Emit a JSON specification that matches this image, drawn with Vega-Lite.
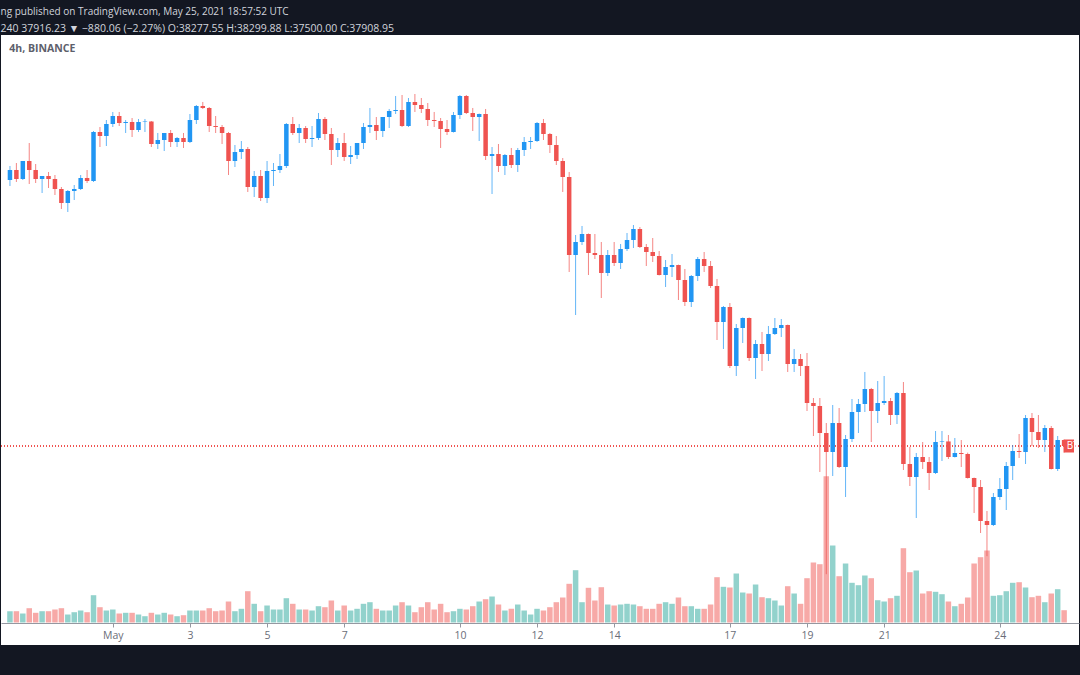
{
"$schema": "https://vega.github.io/schema/vega-lite/v6.json",
"width": 1080,
"height": 675,
"autosize": {"type": "fit", "contains": "padding"},
"padding": {"left": 0, "right": 0, "top": 6, "bottom": 30},
"background": "#131722",
"config": {"view": {"fill": "#ffffff", "stroke": null}, "font": "Open Sans"},
"title": {"text": "ng published on TradingView.com, May 25, 2021 18:57:52 UTC", "subtitle": "240  37916.23 \u25bc \u2212880.06 (\u22122.27%)  O:38277.55  H:38299.88  L:37500.00  C:37908.95", "anchor": "start", "frame": "bounds", "color": "#d1d4dc", "subtitleColor": "#d1d4dc", "fontSize": 10, "subtitleFontSize": 10.5, "fontWeight": "normal", "font": "Open Sans", "subtitleFont": "Open Sans", "offset": 1, "subtitlePadding": 7},
"data": {"values": [
{"t":"2021-04-28T08:00:00Z","o":54321,"h":55185,"l":53951,"c":54938,"v":11300},
{"t":"2021-04-28T12:00:00Z","o":54938,"h":55369,"l":54198,"c":54383,"v":11300},
{"t":"2021-04-28T16:00:00Z","o":54383,"h":55493,"l":54321,"c":55493,"v":9000},
{"t":"2021-04-28T20:00:00Z","o":55493,"h":56603,"l":54074,"c":54938,"v":14300},
{"t":"2021-04-29T00:00:00Z","o":54938,"h":55308,"l":54135,"c":54383,"v":9700},
{"t":"2021-04-29T04:00:00Z","o":54383,"h":54567,"l":53518,"c":54567,"v":11300},
{"t":"2021-04-29T08:00:00Z","o":54567,"h":54815,"l":53827,"c":54383,"v":11300},
{"t":"2021-04-29T12:00:00Z","o":54383,"h":54629,"l":53395,"c":53766,"v":13000},
{"t":"2021-04-29T16:00:00Z","o":53766,"h":53889,"l":52532,"c":52901,"v":14300},
{"t":"2021-04-29T20:00:00Z","o":52901,"h":53704,"l":52347,"c":53642,"v":8000},
{"t":"2021-04-30T00:00:00Z","o":53642,"h":54012,"l":53087,"c":53766,"v":10300},
{"t":"2021-04-30T04:00:00Z","o":53766,"h":54629,"l":53704,"c":54444,"v":12000},
{"t":"2021-04-30T08:00:00Z","o":54444,"h":54938,"l":54136,"c":54259,"v":10300},
{"t":"2021-04-30T12:00:00Z","o":54259,"h":57344,"l":54198,"c":57283,"v":27300},
{"t":"2021-04-30T16:00:00Z","o":57283,"h":57591,"l":56357,"c":57035,"v":15300},
{"t":"2021-04-30T20:00:00Z","o":57035,"h":58023,"l":56418,"c":57776,"v":12000},
{"t":"2021-05-01T00:00:00Z","o":57776,"h":58517,"l":57591,"c":58269,"v":13000},
{"t":"2021-05-01T04:00:00Z","o":58269,"h":58517,"l":57652,"c":57837,"v":9000},
{"t":"2021-05-01T08:00:00Z","o":57837,"h":58023,"l":57221,"c":57900,"v":9700},
{"t":"2021-05-01T12:00:00Z","o":57900,"h":58146,"l":56974,"c":57406,"v":9700},
{"t":"2021-05-01T16:00:00Z","o":57406,"h":58085,"l":57283,"c":57900,"v":8000},
{"t":"2021-05-01T20:00:00Z","o":57900,"h":58085,"l":57283,"c":57930,"v":6300},
{"t":"2021-05-02T00:00:00Z","o":57930,"h":57960,"l":56357,"c":56542,"v":9700},
{"t":"2021-05-02T04:00:00Z","o":56542,"h":57221,"l":56234,"c":56789,"v":8000},
{"t":"2021-05-02T08:00:00Z","o":56789,"h":57221,"l":56110,"c":57221,"v":9700},
{"t":"2021-05-02T12:00:00Z","o":57221,"h":57406,"l":56357,"c":56666,"v":8000},
{"t":"2021-05-02T16:00:00Z","o":56666,"h":56974,"l":56357,"c":56912,"v":6300},
{"t":"2021-05-02T20:00:00Z","o":56912,"h":57221,"l":56296,"c":56666,"v":7300},
{"t":"2021-05-03T00:00:00Z","o":56666,"h":58393,"l":56603,"c":58023,"v":12000},
{"t":"2021-05-03T04:00:00Z","o":58023,"h":58948,"l":57776,"c":58887,"v":12000},
{"t":"2021-05-03T08:00:00Z","o":58887,"h":59134,"l":58702,"c":58764,"v":12000},
{"t":"2021-05-03T12:00:00Z","o":58764,"h":58825,"l":57283,"c":57652,"v":14300},
{"t":"2021-05-03T16:00:00Z","o":57652,"h":58269,"l":57221,"c":57590,"v":11300},
{"t":"2021-05-03T20:00:00Z","o":57590,"h":57714,"l":56542,"c":57221,"v":12000},
{"t":"2021-05-04T00:00:00Z","o":57221,"h":57283,"l":54629,"c":55493,"v":21000},
{"t":"2021-05-04T04:00:00Z","o":55493,"h":56480,"l":55123,"c":56048,"v":11300},
{"t":"2021-05-04T08:00:00Z","o":56048,"h":56727,"l":55616,"c":56234,"v":13700},
{"t":"2021-05-04T12:00:00Z","o":56234,"h":56357,"l":53581,"c":53889,"v":31300},
{"t":"2021-05-04T16:00:00Z","o":53889,"h":54876,"l":53272,"c":54567,"v":18700},
{"t":"2021-05-04T20:00:00Z","o":54567,"h":54938,"l":53025,"c":53210,"v":11300},
{"t":"2021-05-05T00:00:00Z","o":53210,"h":55493,"l":52901,"c":54876,"v":17000},
{"t":"2021-05-05T04:00:00Z","o":54876,"h":55369,"l":53951,"c":54938,"v":13000},
{"t":"2021-05-05T08:00:00Z","o":54938,"h":55925,"l":54752,"c":55185,"v":13000},
{"t":"2021-05-05T12:00:00Z","o":55185,"h":57837,"l":55061,"c":57776,"v":24300},
{"t":"2021-05-05T16:00:00Z","o":57776,"h":58208,"l":57097,"c":57221,"v":18700},
{"t":"2021-05-05T20:00:00Z","o":57221,"h":57776,"l":56603,"c":57529,"v":13000},
{"t":"2021-05-06T00:00:00Z","o":57529,"h":57652,"l":56603,"c":56850,"v":13000},
{"t":"2021-05-06T04:00:00Z","o":56850,"h":57652,"l":56357,"c":56912,"v":12000},
{"t":"2021-05-06T08:00:00Z","o":56912,"h":58455,"l":56789,"c":58085,"v":16300},
{"t":"2021-05-06T12:00:00Z","o":58085,"h":58208,"l":56789,"c":57159,"v":15300},
{"t":"2021-05-06T16:00:00Z","o":57159,"h":57529,"l":55246,"c":56172,"v":22000},
{"t":"2021-05-06T20:00:00Z","o":56172,"h":56912,"l":55740,"c":56603,"v":12000},
{"t":"2021-05-07T00:00:00Z","o":56603,"h":57221,"l":55493,"c":55740,"v":17000},
{"t":"2021-05-07T04:00:00Z","o":55740,"h":56418,"l":55308,"c":55863,"v":12000},
{"t":"2021-05-07T08:00:00Z","o":55863,"h":56603,"l":55616,"c":56603,"v":13700},
{"t":"2021-05-07T12:00:00Z","o":56603,"h":57837,"l":56234,"c":57591,"v":18700},
{"t":"2021-05-07T16:00:00Z","o":57591,"h":58764,"l":57221,"c":57714,"v":20300},
{"t":"2021-05-07T20:00:00Z","o":57714,"h":58208,"l":56789,"c":57344,"v":13700},
{"t":"2021-05-08T00:00:00Z","o":57344,"h":58208,"l":56974,"c":58208,"v":12000},
{"t":"2021-05-08T04:00:00Z","o":58208,"h":58702,"l":57529,"c":58578,"v":12000},
{"t":"2021-05-08T08:00:00Z","o":58578,"h":59504,"l":58393,"c":58640,"v":17000},
{"t":"2021-05-08T12:00:00Z","o":58640,"h":59565,"l":57591,"c":57652,"v":20300},
{"t":"2021-05-08T16:00:00Z","o":57652,"h":59380,"l":57591,"c":59134,"v":17000},
{"t":"2021-05-08T20:00:00Z","o":59134,"h":59627,"l":58517,"c":58948,"v":10300},
{"t":"2021-05-09T00:00:00Z","o":58948,"h":59380,"l":58455,"c":58702,"v":15300},
{"t":"2021-05-09T04:00:00Z","o":58702,"h":59071,"l":57652,"c":58023,"v":20300},
{"t":"2021-05-09T08:00:00Z","o":58023,"h":58517,"l":57591,"c":57962,"v":13000},
{"t":"2021-05-09T12:00:00Z","o":57962,"h":58146,"l":56296,"c":57467,"v":18700},
{"t":"2021-05-09T16:00:00Z","o":57467,"h":58023,"l":57097,"c":57283,"v":10300},
{"t":"2021-05-09T20:00:00Z","o":57283,"h":58517,"l":57250,"c":58331,"v":11300},
{"t":"2021-05-10T00:00:00Z","o":58331,"h":59565,"l":58085,"c":59504,"v":13700},
{"t":"2021-05-10T04:00:00Z","o":59504,"h":59565,"l":58393,"c":58455,"v":13000},
{"t":"2021-05-10T08:00:00Z","o":58455,"h":58764,"l":57344,"c":58208,"v":16300},
{"t":"2021-05-10T12:00:00Z","o":58208,"h":58420,"l":56727,"c":58393,"v":21000},
{"t":"2021-05-10T16:00:00Z","o":58393,"h":58702,"l":55555,"c":55801,"v":23300},
{"t":"2021-05-10T20:00:00Z","o":55801,"h":56357,"l":53457,"c":55925,"v":26000},
{"t":"2021-05-11T00:00:00Z","o":55925,"h":56542,"l":54815,"c":55185,"v":18000},
{"t":"2021-05-11T04:00:00Z","o":55185,"h":55925,"l":54629,"c":55863,"v":12000},
{"t":"2021-05-11T08:00:00Z","o":55863,"h":56296,"l":55061,"c":55246,"v":13700},
{"t":"2021-05-11T12:00:00Z","o":55246,"h":56296,"l":54815,"c":56172,"v":18000},
{"t":"2021-05-11T16:00:00Z","o":56172,"h":56974,"l":55801,"c":56666,"v":12000},
{"t":"2021-05-11T20:00:00Z","o":56666,"h":56974,"l":56234,"c":56727,"v":8000},
{"t":"2021-05-12T00:00:00Z","o":56727,"h":57900,"l":56666,"c":57837,"v":13700},
{"t":"2021-05-12T04:00:00Z","o":57837,"h":58085,"l":56789,"c":57159,"v":12000},
{"t":"2021-05-12T08:00:00Z","o":57159,"h":57221,"l":55986,"c":56480,"v":15300},
{"t":"2021-05-12T12:00:00Z","o":56480,"h":57035,"l":55246,"c":55493,"v":20300},
{"t":"2021-05-12T16:00:00Z","o":55493,"h":55678,"l":53581,"c":54506,"v":25000},
{"t":"2021-05-12T20:00:00Z","o":54506,"h":54815,"l":48645,"c":49693,"v":38700},
{"t":"2021-05-13T00:00:00Z","o":49693,"h":50927,"l":45991,"c":50496,"v":52300},
{"t":"2021-05-13T04:00:00Z","o":50496,"h":51483,"l":50310,"c":50989,"v":20300},
{"t":"2021-05-13T08:00:00Z","o":50989,"h":51020,"l":48459,"c":49816,"v":34700},
{"t":"2021-05-13T12:00:00Z","o":49816,"h":50989,"l":49446,"c":49693,"v":22000},
{"t":"2021-05-13T16:00:00Z","o":49693,"h":50495,"l":47040,"c":48582,"v":35300},
{"t":"2021-05-13T20:00:00Z","o":48582,"h":50002,"l":48398,"c":49693,"v":18000},
{"t":"2021-05-14T00:00:00Z","o":49693,"h":50495,"l":49014,"c":49199,"v":17000},
{"t":"2021-05-14T04:00:00Z","o":49199,"h":50372,"l":48830,"c":50064,"v":18000},
{"t":"2021-05-14T08:00:00Z","o":50064,"h":51050,"l":49940,"c":50619,"v":18700},
{"t":"2021-05-14T12:00:00Z","o":50619,"h":51544,"l":50125,"c":51298,"v":18000},
{"t":"2021-05-14T16:00:00Z","o":51298,"h":51421,"l":50125,"c":50187,"v":16300},
{"t":"2021-05-14T20:00:00Z","o":50187,"h":50372,"l":49014,"c":49878,"v":13700},
{"t":"2021-05-15T00:00:00Z","o":49878,"h":50742,"l":49261,"c":49631,"v":13700},
{"t":"2021-05-15T04:00:00Z","o":49631,"h":49940,"l":48430,"c":48459,"v":18700},
{"t":"2021-05-15T08:00:00Z","o":48459,"h":49385,"l":47719,"c":48953,"v":20300},
{"t":"2021-05-15T12:00:00Z","o":48953,"h":49755,"l":48336,"c":49076,"v":18700},
{"t":"2021-05-15T16:00:00Z","o":49076,"h":49100,"l":46917,"c":48151,"v":25000},
{"t":"2021-05-15T20:00:00Z","o":48151,"h":48830,"l":46546,"c":46794,"v":16300},
{"t":"2021-05-16T00:00:00Z","o":46794,"h":48459,"l":46485,"c":48398,"v":16300},
{"t":"2021-05-16T04:00:00Z","o":48398,"h":49570,"l":48089,"c":49446,"v":13700},
{"t":"2021-05-16T08:00:00Z","o":49446,"h":49878,"l":48645,"c":49014,"v":13700},
{"t":"2021-05-16T12:00:00Z","o":49014,"h":49323,"l":47657,"c":47780,"v":18000},
{"t":"2021-05-16T16:00:00Z","o":47780,"h":48213,"l":44449,"c":45560,"v":45300},
{"t":"2021-05-16T20:00:00Z","o":45560,"h":46546,"l":43894,"c":46485,"v":35700},
{"t":"2021-05-17T00:00:00Z","o":46485,"h":46731,"l":42721,"c":42844,"v":35000},
{"t":"2021-05-17T04:00:00Z","o":42844,"h":45436,"l":42227,"c":45189,"v":49000},
{"t":"2021-05-17T08:00:00Z","o":45189,"h":45840,"l":44263,"c":45806,"v":30000},
{"t":"2021-05-17T12:00:00Z","o":45806,"h":45840,"l":43153,"c":43338,"v":29000},
{"t":"2021-05-17T16:00:00Z","o":43338,"h":44449,"l":42043,"c":44202,"v":38000},
{"t":"2021-05-17T20:00:00Z","o":44202,"h":44943,"l":42536,"c":43585,"v":25300},
{"t":"2021-05-18T00:00:00Z","o":43585,"h":45313,"l":43153,"c":44819,"v":24300},
{"t":"2021-05-18T04:00:00Z","o":44819,"h":45806,"l":44757,"c":45189,"v":22000},
{"t":"2021-05-18T08:00:00Z","o":45189,"h":45744,"l":44634,"c":45374,"v":17000},
{"t":"2021-05-18T12:00:00Z","o":45374,"h":45400,"l":42475,"c":42968,"v":36300},
{"t":"2021-05-18T16:00:00Z","o":42968,"h":43894,"l":42475,"c":43276,"v":29000},
{"t":"2021-05-18T20:00:00Z","o":43276,"h":43585,"l":42227,"c":42844,"v":18700},
{"t":"2021-05-19T00:00:00Z","o":42844,"h":43646,"l":40068,"c":40561,"v":44300},
{"t":"2021-05-19T04:00:00Z","o":40561,"h":40870,"l":38525,"c":40377,"v":60000},
{"t":"2021-05-19T08:00:00Z","o":40377,"h":40870,"l":36305,"c":38710,"v":58300},
{"t":"2021-05-19T12:00:00Z","o":38710,"h":39327,"l":30000,"c":37539,"v":146300},
{"t":"2021-05-19T16:00:00Z","o":37539,"h":40438,"l":36057,"c":39327,"v":77000},
{"t":"2021-05-19T20:00:00Z","o":39327,"h":40253,"l":36551,"c":36613,"v":46300},
{"t":"2021-05-20T00:00:00Z","o":36613,"h":38587,"l":34762,"c":38340,"v":59000},
{"t":"2021-05-20T04:00:00Z","o":38340,"h":40808,"l":38155,"c":40007,"v":39700},
{"t":"2021-05-20T08:00:00Z","o":40007,"h":40808,"l":38710,"c":40500,"v":37300},
{"t":"2021-05-20T12:00:00Z","o":40500,"h":42475,"l":40007,"c":41426,"v":47000},
{"t":"2021-05-20T16:00:00Z","o":41426,"h":41490,"l":38155,"c":40068,"v":44300},
{"t":"2021-05-20T20:00:00Z","o":40068,"h":41919,"l":39327,"c":40561,"v":22300},
{"t":"2021-05-21T00:00:00Z","o":40561,"h":42227,"l":40438,"c":40685,"v":21000},
{"t":"2021-05-21T04:00:00Z","o":40685,"h":40870,"l":39204,"c":39821,"v":24300},
{"t":"2021-05-21T08:00:00Z","o":39821,"h":41241,"l":39266,"c":41178,"v":26700},
{"t":"2021-05-21T12:00:00Z","o":41178,"h":41857,"l":36428,"c":36798,"v":74300},
{"t":"2021-05-21T16:00:00Z","o":36798,"h":37847,"l":35440,"c":35996,"v":50300},
{"t":"2021-05-21T20:00:00Z","o":35996,"h":37477,"l":33466,"c":37230,"v":52000},
{"t":"2021-05-22T00:00:00Z","o":37230,"h":38155,"l":36490,"c":36922,"v":29000},
{"t":"2021-05-22T04:00:00Z","o":36922,"h":37230,"l":35194,"c":36242,"v":31300},
{"t":"2021-05-22T08:00:00Z","o":36242,"h":38834,"l":36181,"c":38156,"v":30700},
{"t":"2021-05-22T12:00:00Z","o":38156,"h":38834,"l":36983,"c":38190,"v":28300},
{"t":"2021-05-22T16:00:00Z","o":38190,"h":38587,"l":37107,"c":37230,"v":21000},
{"t":"2021-05-22T20:00:00Z","o":37230,"h":38402,"l":37200,"c":37477,"v":16300},
{"t":"2021-05-23T00:00:00Z","o":37477,"h":38279,"l":36613,"c":37415,"v":18700},
{"t":"2021-05-23T04:00:00Z","o":37415,"h":37500,"l":35900,"c":35934,"v":25000},
{"t":"2021-05-23T08:00:00Z","o":35934,"h":35960,"l":33774,"c":35379,"v":59000},
{"t":"2021-05-23T12:00:00Z","o":35379,"h":35811,"l":32540,"c":33281,"v":65300},
{"t":"2021-05-23T16:00:00Z","o":33281,"h":33898,"l":31111,"c":33034,"v":72000},
{"t":"2021-05-23T20:00:00Z","o":33034,"h":35008,"l":32972,"c":34762,"v":26700},
{"t":"2021-05-24T00:00:00Z","o":34762,"h":35934,"l":34577,"c":35256,"v":27300},
{"t":"2021-05-24T04:00:00Z","o":35256,"h":36922,"l":33960,"c":36675,"v":31300},
{"t":"2021-05-24T08:00:00Z","o":36675,"h":37970,"l":35811,"c":37600,"v":39700},
{"t":"2021-05-24T12:00:00Z","o":37600,"h":38649,"l":37168,"c":37539,"v":40300},
{"t":"2021-05-24T16:00:00Z","o":37539,"h":39821,"l":36798,"c":39636,"v":35000},
{"t":"2021-05-24T20:00:00Z","o":39636,"h":39944,"l":37909,"c":38773,"v":25300},
{"t":"2021-05-25T00:00:00Z","o":38773,"h":39821,"l":37785,"c":38279,"v":26700},
{"t":"2021-05-25T04:00:00Z","o":38279,"h":39204,"l":37539,"c":39019,"v":20300},
{"t":"2021-05-25T08:00:00Z","o":39019,"h":39142,"l":36460,"c":36490,"v":29000},
{"t":"2021-05-25T12:00:00Z","o":36490,"h":38525,"l":36366,"c":38277.55,"v":33300},
{"t":"2021-05-25T16:00:00Z","o":38277.55,"h":38299.88,"l":37500,"c":37908.95,"v":12300}
]},
"resolve": {"scale": {"y": "independent"}},
"layer": [
{
"mark": {"type": "bar", "size": 5.5},
"encoding": {
"x": {"field": "t", "type": "temporal", "scale": {"type": "utc", "domain": [{"year": 2021, "month": 4, "date": 28, "hours": 5, "minutes": 32, "seconds": 18, "utc": true}, {"year": 2021, "month": 5, "date": 25, "hours": 22, "minutes": 9, "seconds": 14, "utc": true}]}, "axis": {"values": [{"year": 2021, "month": 5, "date": 1, "utc": true}, {"year": 2021, "month": 5, "date": 3, "utc": true}, {"year": 2021, "month": 5, "date": 5, "utc": true}, {"year": 2021, "month": 5, "date": 7, "utc": true}, {"year": 2021, "month": 5, "date": 10, "utc": true}, {"year": 2021, "month": 5, "date": 12, "utc": true}, {"year": 2021, "month": 5, "date": 14, "utc": true}, {"year": 2021, "month": 5, "date": 17, "utc": true}, {"year": 2021, "month": 5, "date": 19, "utc": true}, {"year": 2021, "month": 5, "date": 21, "utc": true}, {"year": 2021, "month": 5, "date": 24, "utc": true}], "labelExpr": "utcdate(datum.value) == 1 ? 'May' : '' + utcdate(datum.value)", "offset": -22, "title": null, "grid": false, "domainColor": "#9598a1", "tickColor": "#9598a1", "tickSize": 4, "labelColor": "#6a6d78", "labelFontSize": 10.5, "labelFont": "Open Sans", "labelPadding": 3, "labelFlush": false, "labelOverlap": false}},
"y": {"field": "v", "type": "quantitative", "scale": {"domain": [-22500, 587500], "nice": false, "zero": false}, "axis": null},
"y2": {"datum": 0},
"color": {"condition": {"test": "datum.c >= datum.o", "value": "#92d2cc"}, "value": "#f7a9a7"}
}
},
{
"layer": [
{
"mark": {"type": "rule", "color": "#ef5350", "strokeDash": [1, 2], "strokeWidth": 1, "opacity": 0.85},
"encoding": {"y": {"datum": 37908.95, "type": "quantitative", "scale": {"domain": [25630.5, 63267.5], "nice": false, "zero": false}, "axis": null}}
},
{
"mark": {"type": "rule", "strokeWidth": 1, "opacity": 0.7},
"encoding": {
"x": {"field": "t", "type": "temporal"},
"y": {"field": "l", "type": "quantitative", "scale": {"domain": [25630.5, 63267.5], "nice": false, "zero": false}, "axis": null},
"y2": {"field": "h"},
"color": {"condition": {"test": "datum.c >= datum.o", "value": "#2196f3"}, "value": "#ef5350"}
}
},
{
"mark": {"type": "bar", "size": 4.5},
"encoding": {
"x": {"field": "t", "type": "temporal"},
"y": {"field": "o", "type": "quantitative", "scale": {"domain": [25630.5, 63267.5], "nice": false, "zero": false}, "axis": null},
"y2": {"field": "c"},
"color": {"condition": {"test": "datum.c >= datum.o", "value": "#2196f3"}, "value": "#ef5350"}
}
},
{
"data": {"values": [{"label": "4h, BINANCE"}]},
"mark": {"type": "text", "align": "left", "baseline": "middle", "fontSize": 10.5, "fontWeight": "bold", "color": "#5d606b", "font": "Open Sans"},
"encoding": {
"x": {"datum": {"year": 2021, "month": 4, "date": 28, "hours": 7, "minutes": 34, "utc": true}, "type": "temporal"},
"y": {"datum": 62404, "type": "quantitative"},
"text": {"field": "label"}
}
},
{
"data": {"values": [{"label": "BTCUSDT"}]},
"mark": {"type": "rect", "color": "#ef5350", "clip": true},
"encoding": {
"x": {"datum": {"year": 2021, "month": 5, "date": 25, "hours": 15, "minutes": 45, "utc": true}, "type": "temporal"},
"x2": {"datum": {"year": 2021, "month": 5, "date": 25, "hours": 22, "minutes": 9, "utc": true}},
"y": {"datum": 38310, "type": "quantitative"},
"y2": {"datum": 37508}
}
},
{
"data": {"values": [{"label": "BTCUSDT"}]},
"mark": {"type": "text", "align": "left", "baseline": "middle", "dx": 3, "fontSize": 10, "color": "#ffffff", "clip": true, "font": "Open Sans"},
"encoding": {
"x": {"datum": {"year": 2021, "month": 5, "date": 25, "hours": 15, "minutes": 45, "utc": true}, "type": "temporal"},
"y": {"datum": 37908.95, "type": "quantitative"},
"text": {"field": "label"}
}
}
]
}
]
}
